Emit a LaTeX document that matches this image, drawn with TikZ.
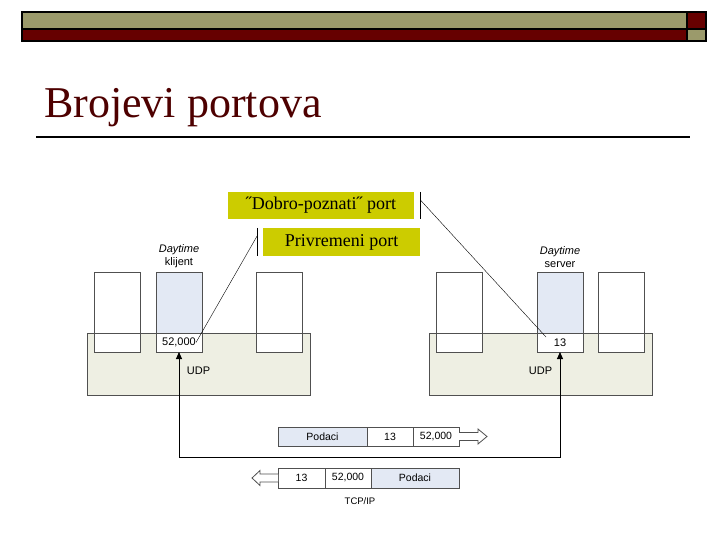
\documentclass[tikz,border=0pt]{standalone}
\usepackage{fontspec}
\setmainfont{Liberation Serif}
\newfontfamily\diagfont{Liberation Sans}
\usepackage{xcolor}
\usetikzlibrary{arrows.meta,positioning}
\definecolor{slideolive}{HTML}{9B9A6B}
\definecolor{slidered}{HTML}{660000}
\definecolor{titlered}{HTML}{4E0000}
\definecolor{calloutyellow}{HTML}{CCCC00}
\definecolor{hostbeige}{HTML}{EEEFE3}
\definecolor{procblue}{HTML}{E3E9F4}
\definecolor{boxgray}{HTML}{505050}

\begin{document}
\begin{tikzpicture}[x=1pt,y=-1pt,
  band/.style={draw=black,line width=1.5pt},
  title/.style={anchor=base west,inner sep=0pt,text=titlered,font=\fontsize{44}{48}\selectfont},
  callout/.style={fill=calloutyellow,minimum height=27pt,inner sep=0pt,font=\fontsize{18}{20}\selectfont},
  host/.style={draw=boxgray,fill=hostbeige,line width=0.8pt,minimum width=223pt,minimum height=62pt,inner sep=0pt},
  proc/.style={draw=boxgray,fill=white,line width=0.8pt,minimum width=46pt,minimum height=61pt,inner sep=0pt,outer sep=0pt},
  port/.style={draw=boxgray,fill=white,line width=0.8pt,minimum width=46pt,minimum height=19pt,inner sep=0pt,outer sep=0pt,font=\diagfont\fontsize{11}{12}\selectfont},
  field/.style={draw=boxgray,fill=white,line width=0.8pt,minimum height=19pt,inner sep=0pt,outer sep=0pt,font=\diagfont\fontsize{10.5}{12}\selectfont},
  txt/.style={align=center,font=\diagfont\fontsize{11}{13}\selectfont},
  arr/.style={{Triangle[length=7pt,width=6pt]}-{Triangle[length=7pt,width=6pt]},line width=0.9pt},
  hollow/.style={draw=boxgray,fill=white,line width=0.8pt},
  leader/.style={line width=0.4pt},
]
  \useasboundingbox[fill=white] (0,0) rectangle (720,540);

  % Slide header
  \draw[band,fill=slideolive] (22,12) rectangle (687,29);
  \draw[band,fill=slidered] (22,29) rectangle (687,41);
  \draw[band,fill=slidered] (687,12) rectangle (706,29);
  \draw[band,fill=slideolive] (687,29) rectangle (706,41);
  \node[title] (heading) at (44,118) {Brojevi portova};
  \draw[line width=1.5pt] (36,137) -- (690,137);

  % Client host
  \node[host] (udpL) at (198.5,364) {};
  \node[proc] (pL1) at (117.5,302.5) {};
  \node[port,below=0pt of pL1] (pL1b) {};
  \node[proc,fill=procblue] (cli) at (179,302.5) {};
  \node[port,below=0pt of cli] (portL) {52,000};
  \node[proc] (pL3) at (279,302.5) {};
  \node[port,below=0pt of pL3] (pL3b) {};
  \node[txt,above=1pt of cli] (cliname) {\textit{Daytime}\\klijent};
  \node[txt] (udpLname) at ([yshift=-7pt]udpL.center) {UDP};

  % Server host
  \node[host] (udpR) at (540.5,364) {};
  \node[proc] (pR1) at (459.5,302.5) {};
  \node[port,below=0pt of pR1] (pR1b) {};
  \node[proc,fill=procblue] (srv) at (560,302.5) {};
  \node[port,below=0pt of srv] (portR) {13};
  \node[proc] (pR3) at (621.5,302.5) {};
  \node[port,below=0pt of pR3] (pR3b) {};
  \node[txt,above=1pt of srv] (srvname) {\textit{Daytime}\\server};
  \node[txt] (udpRname) at ([yshift=-7pt]udpR.center) {UDP};

  % Path between the hosts
  \draw[arr] (portL.south) -- ++(0,105) -| (portR.south);

  % Datagram to the server
  \node[field,fill=procblue,minimum width=89pt] (dataA) at (322.5,436.5) {Podaci};
  \node[field,minimum width=46pt,right=0pt of dataA] (dstA) {13};
  \node[field,minimum width=46pt,right=0pt of dstA] (srcA) {52,000};
  \draw[hollow] (srcA.east) ++(0,-4) -- ++(19,0) -- ++(0,-3.5) -- ++(9,7.5) -- ++(-9,7.5) -- ++(0,-3.5) -- ++(-19,0);

  % Datagram back to the client
  \node[field,minimum width=47pt,minimum height=20pt] (dstB) at (301.5,478) {13};
  \node[field,minimum width=46pt,minimum height=20pt,right=0pt of dstB] (srcB) {52,000};
  \node[field,fill=procblue,minimum width=88pt,minimum height=20pt,right=0pt of srcB] (dataB) {Podaci};
  \draw[hollow] (dstB.west) ++(0,-4) -- ++(-18,0) -- ++(0,-3.5) -- ++(-8,7.5) -- ++(8,7.5) -- ++(0,-3.5) -- ++(18,0);
  \node[txt,font=\diagfont\fontsize{9.5}{11}\selectfont] (stack) at (360,501) {TCP/IP};

  % Callouts
  \node[callout,minimum width=186pt] (wellknown) at (321,205.5) {˝Dobro-poznati˝ port};
  \node[callout,minimum width=157pt,minimum height=28pt] (ephemeral) at (341.5,242) {Privremeni port};
  \draw[line width=1pt] ([xshift=6pt]wellknown.north east) -- ([xshift=6pt]wellknown.south east);
  \draw[line width=1pt] ([xshift=-5pt]ephemeral.north west) -- ([xshift=-5pt]ephemeral.south west);
  \draw[leader] ([xshift=6pt,yshift=-8pt]wellknown.north east) -- ([shift={(9pt,-4pt)}]portR.north west);
  \draw[leader] ([xshift=-5pt,yshift=-7pt]ephemeral.north west) -- ([xshift=-6pt]portL.east);
\end{tikzpicture}
\end{document}
